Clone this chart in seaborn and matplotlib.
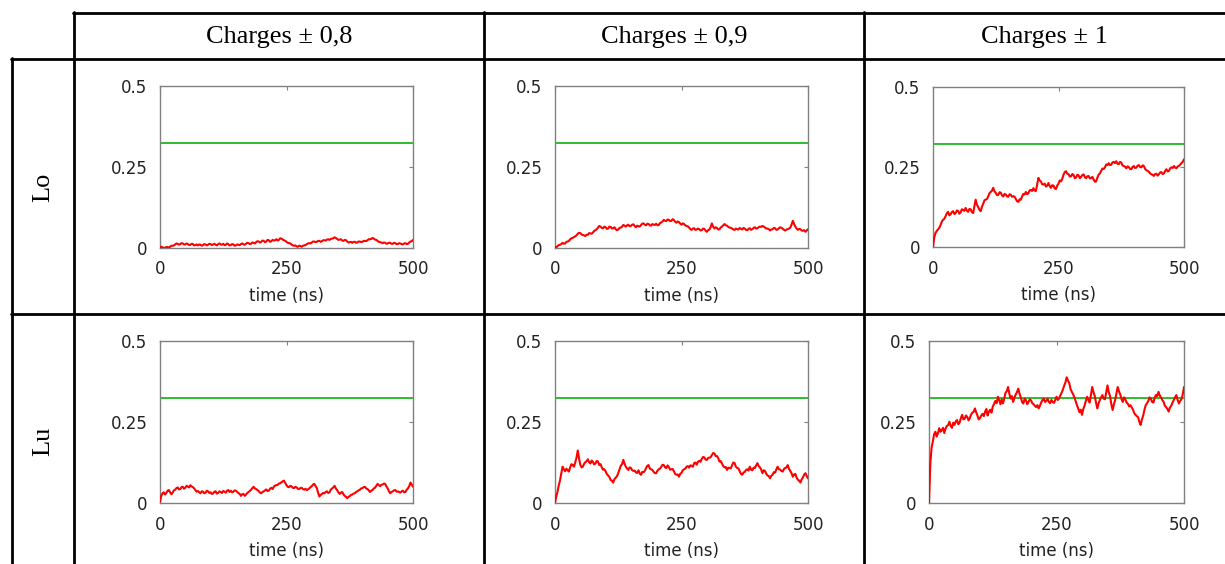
import numpy as np
import pandas as pd
import matplotlib
matplotlib.use("Agg")
import matplotlib.pyplot as plt
from matplotlib.lines import Line2D
import seaborn as sns

# ---------------- data ----------------
col_titles = ["Charges ± 0,8", "Charges ± 0,9", "Charges ± 1"]
row_titles = ["Lo", "Lu"]
x_ticks = [0, 250, 500]
x_ticklabels = ["0", "250", "500"]
y_ticks = [0, 0.25, 0.5]
y_ticklabels = ["0", "0.25", "0.5"]
x_label = "time (ns)"
reference_level = 0.323

# samples on a 5 ns grid, plus in-between samples (at 2.5, 7.5, ...)
time_ns = [5 * i for i in range(101)]
time_mid_ns = [2.5 + 5 * i for i in range(100)]

lo_08 = [0.001, 0.002, 0.001, 0.003, 0.004, 0.007, 0.011, 0.013, 0.012, 0.014,
         0.011, 0.012, 0.010, 0.012, 0.009, 0.008, 0.010, 0.009, 0.011, 0.010,
         0.012, 0.011, 0.010, 0.012, 0.011, 0.013, 0.010, 0.012, 0.009, 0.011,
         0.008, 0.010, 0.012, 0.011, 0.013, 0.015, 0.013, 0.016, 0.018, 0.020,
         0.019, 0.022, 0.020, 0.024, 0.021, 0.023, 0.027, 0.025, 0.029, 0.024,
         0.019, 0.015, 0.011, 0.007, 0.005, 0.007, 0.004, 0.008, 0.012, 0.015,
         0.017, 0.020, 0.019, 0.022, 0.021, 0.024, 0.026, 0.025, 0.029, 0.033,
         0.028, 0.026, 0.023, 0.025, 0.020, 0.018, 0.016, 0.019, 0.017, 0.020,
         0.019, 0.022, 0.024, 0.027, 0.031, 0.026, 0.022, 0.018, 0.015, 0.016,
         0.014, 0.016, 0.013, 0.015, 0.012, 0.014, 0.011, 0.015, 0.013, 0.020,
         0.025]
lo_08_mid = [0.004, 0.000, 0.003, 0.001, 0.007, 0.008, 0.014, 0.010, 0.015, 0.011,
             0.014, 0.009, 0.013, 0.008, 0.011, 0.011, 0.007, 0.012, 0.008, 0.013,
             0.009, 0.013, 0.008, 0.014, 0.010, 0.009, 0.014, 0.008, 0.012, 0.007,
             0.011, 0.009, 0.014, 0.010, 0.016, 0.012, 0.017, 0.014, 0.021, 0.017,
             0.023, 0.018, 0.025, 0.019, 0.025, 0.024, 0.023, 0.030, 0.026, 0.022,
             0.016, 0.014, 0.008, 0.008, 0.004, 0.006, 0.007, 0.009, 0.014, 0.014,
             0.020, 0.018, 0.022, 0.019, 0.024, 0.023, 0.027, 0.028, 0.030, 0.031,
             0.025, 0.027, 0.022, 0.024, 0.017, 0.019, 0.019, 0.016, 0.020, 0.018,
             0.022, 0.021, 0.027, 0.028, 0.029, 0.025, 0.019, 0.017, 0.017, 0.013,
             0.016, 0.013, 0.016, 0.012, 0.015, 0.012, 0.014, 0.012, 0.017, 0.021]

lo_09 = [0.003, 0.006, 0.010, 0.016, 0.014, 0.020, 0.027, 0.031, 0.036, 0.044,
         0.046, 0.040, 0.037, 0.041, 0.045, 0.048, 0.055, 0.063, 0.066, 0.061,
         0.064, 0.060, 0.065, 0.061, 0.058, 0.057, 0.063, 0.071, 0.066, 0.072,
         0.068, 0.073, 0.064, 0.067, 0.071, 0.076, 0.070, 0.074, 0.069, 0.072,
         0.075, 0.071, 0.079, 0.087, 0.083, 0.087, 0.084, 0.086, 0.078, 0.080,
         0.072, 0.074, 0.068, 0.063, 0.056, 0.061, 0.057, 0.058, 0.055, 0.059,
         0.050, 0.057, 0.076, 0.060, 0.062, 0.058, 0.066, 0.074, 0.069, 0.063,
         0.060, 0.056, 0.058, 0.062, 0.057, 0.060, 0.055, 0.061, 0.058, 0.064,
         0.061, 0.066, 0.068, 0.063, 0.060, 0.054, 0.058, 0.061, 0.057, 0.064,
         0.060, 0.054, 0.058, 0.063, 0.084, 0.066, 0.056, 0.058, 0.053, 0.050,
         0.058]
lo_09_mid = [0.002, 0.009, 0.012, 0.013, 0.019, 0.022, 0.030, 0.034, 0.039, 0.047,
             0.042, 0.039, 0.041, 0.046, 0.044, 0.053, 0.058, 0.068, 0.062, 0.066,
             0.059, 0.066, 0.060, 0.064, 0.055, 0.062, 0.066, 0.069, 0.070, 0.067,
             0.072, 0.068, 0.069, 0.066, 0.075, 0.072, 0.075, 0.070, 0.074, 0.071,
             0.070, 0.077, 0.082, 0.084, 0.088, 0.083, 0.089, 0.081, 0.082, 0.075,
             0.076, 0.070, 0.067, 0.058, 0.060, 0.056, 0.060, 0.054, 0.060, 0.054,
             0.055, 0.064, 0.066, 0.064, 0.057, 0.063, 0.070, 0.070, 0.065, 0.062,
             0.057, 0.060, 0.057, 0.059, 0.062, 0.056, 0.059, 0.056, 0.062, 0.060,
             0.064, 0.065, 0.066, 0.060, 0.058, 0.057, 0.062, 0.056, 0.061, 0.062,
             0.056, 0.057, 0.060, 0.072, 0.074, 0.060, 0.059, 0.054, 0.055, 0.054]

lo_10 = [0.000, 0.044, 0.055, 0.068, 0.085, 0.096, 0.110, 0.102, 0.112, 0.106,
         0.113, 0.108, 0.116, 0.122, 0.110, 0.118, 0.106, 0.148, 0.125, 0.112,
         0.135, 0.148, 0.158, 0.172, 0.185, 0.169, 0.163, 0.170, 0.158, 0.164,
         0.157, 0.163, 0.159, 0.150, 0.141, 0.148, 0.166, 0.172, 0.168, 0.178,
         0.184, 0.175, 0.216, 0.205, 0.195, 0.189, 0.200, 0.185, 0.192, 0.181,
         0.198, 0.205, 0.226, 0.237, 0.228, 0.221, 0.225, 0.217, 0.224, 0.219,
         0.227, 0.215, 0.222, 0.216, 0.211, 0.205, 0.226, 0.238, 0.244, 0.258,
         0.262, 0.257, 0.266, 0.268, 0.259, 0.264, 0.253, 0.246, 0.250, 0.243,
         0.253, 0.248, 0.256, 0.249, 0.253, 0.240, 0.235, 0.227, 0.222, 0.229,
         0.227, 0.234, 0.230, 0.243, 0.238, 0.249, 0.253, 0.246, 0.253, 0.262,
         0.274]
lo_10_mid = [0.030, 0.050, 0.060, 0.079, 0.088, 0.105, 0.099, 0.109, 0.103, 0.114,
             0.104, 0.118, 0.113, 0.114, 0.119, 0.109, 0.128, 0.132, 0.116, 0.126,
             0.146, 0.150, 0.168, 0.176, 0.174, 0.162, 0.171, 0.161, 0.166, 0.158,
             0.165, 0.157, 0.157, 0.143, 0.149, 0.158, 0.164, 0.165, 0.177, 0.175,
             0.176, 0.196, 0.208, 0.196, 0.198, 0.192, 0.190, 0.193, 0.183, 0.192,
             0.208, 0.213, 0.234, 0.229, 0.220, 0.228, 0.215, 0.226, 0.215, 0.225,
             0.218, 0.221, 0.214, 0.219, 0.204, 0.217, 0.230, 0.245, 0.249, 0.256,
             0.256, 0.264, 0.262, 0.260, 0.266, 0.255, 0.251, 0.252, 0.244, 0.250,
             0.247, 0.254, 0.250, 0.255, 0.244, 0.238, 0.230, 0.226, 0.228, 0.223,
             0.233, 0.228, 0.238, 0.236, 0.246, 0.247, 0.248, 0.252, 0.258, 0.266]

lu_08 = [0.004, 0.030, 0.026, 0.038, 0.033, 0.032, 0.041, 0.048, 0.043, 0.050,
         0.047, 0.051, 0.055, 0.049, 0.040, 0.037, 0.030, 0.035, 0.032, 0.036,
         0.033, 0.030, 0.036, 0.031, 0.034, 0.037, 0.032, 0.040, 0.038, 0.035,
         0.038, 0.031, 0.022, 0.028, 0.026, 0.034, 0.041, 0.050, 0.043, 0.037,
         0.030, 0.036, 0.042, 0.038, 0.047, 0.050, 0.055, 0.060, 0.064, 0.069,
         0.055, 0.049, 0.051, 0.046, 0.048, 0.043, 0.047, 0.041, 0.040, 0.045,
         0.052, 0.059, 0.046, 0.020, 0.028, 0.030, 0.036, 0.033, 0.045, 0.053,
         0.040, 0.028, 0.034, 0.022, 0.015, 0.021, 0.026, 0.030, 0.036, 0.041,
         0.046, 0.050, 0.043, 0.034, 0.040, 0.047, 0.059, 0.052, 0.057, 0.059,
         0.045, 0.030, 0.036, 0.040, 0.036, 0.032, 0.038, 0.034, 0.045, 0.063,
         0.050]
lu_08_mid = [0.022, 0.033, 0.031, 0.040, 0.027, 0.039, 0.046, 0.042, 0.049, 0.044,
             0.053, 0.048, 0.051, 0.045, 0.035, 0.033, 0.036, 0.030, 0.038, 0.031,
             0.028, 0.035, 0.029, 0.036, 0.031, 0.035, 0.038, 0.034, 0.033, 0.039,
             0.034, 0.028, 0.027, 0.022, 0.031, 0.037, 0.046, 0.045, 0.040, 0.032,
             0.034, 0.039, 0.037, 0.044, 0.043, 0.054, 0.056, 0.061, 0.067, 0.062,
             0.050, 0.053, 0.047, 0.050, 0.044, 0.046, 0.043, 0.044, 0.042, 0.049,
             0.057, 0.052, 0.031, 0.025, 0.031, 0.034, 0.031, 0.041, 0.048, 0.045,
             0.033, 0.032, 0.027, 0.019, 0.019, 0.025, 0.029, 0.034, 0.039, 0.045,
             0.049, 0.045, 0.039, 0.038, 0.045, 0.053, 0.055, 0.056, 0.060, 0.051,
             0.036, 0.034, 0.039, 0.035, 0.034, 0.036, 0.033, 0.041, 0.052, 0.057]

lu_09 = [0.000, 0.035, 0.070, 0.112, 0.098, 0.101, 0.110, 0.117, 0.125, 0.162,
         0.118, 0.112, 0.126, 0.135, 0.122, 0.127, 0.122, 0.128, 0.120, 0.103,
         0.098, 0.085, 0.071, 0.063, 0.078, 0.092, 0.115, 0.133, 0.112, 0.102,
         0.108, 0.099, 0.094, 0.101, 0.087, 0.095, 0.108, 0.117, 0.104, 0.096,
         0.092, 0.104, 0.112, 0.117, 0.108, 0.111, 0.104, 0.098, 0.087, 0.081,
         0.093, 0.104, 0.112, 0.109, 0.115, 0.123, 0.118, 0.130, 0.136, 0.141,
         0.133, 0.140, 0.148, 0.153, 0.145, 0.128, 0.122, 0.110, 0.102, 0.108,
         0.117, 0.123, 0.108, 0.098, 0.087, 0.096, 0.104, 0.112, 0.101, 0.108,
         0.123, 0.110, 0.092, 0.099, 0.085, 0.076, 0.087, 0.094, 0.112, 0.103,
         0.097, 0.108, 0.117, 0.099, 0.081, 0.090, 0.072, 0.063, 0.079, 0.092,
         0.076]
lu_09_mid = [0.020, 0.055, 0.092, 0.104, 0.106, 0.097, 0.120, 0.112, 0.140, 0.138,
             0.110, 0.121, 0.129, 0.126, 0.131, 0.119, 0.130, 0.117, 0.110, 0.104,
             0.089, 0.080, 0.069, 0.074, 0.083, 0.104, 0.120, 0.121, 0.106, 0.110,
             0.101, 0.100, 0.093, 0.091, 0.096, 0.099, 0.115, 0.106, 0.102, 0.092,
             0.100, 0.106, 0.118, 0.110, 0.116, 0.103, 0.105, 0.090, 0.088, 0.090,
             0.101, 0.106, 0.114, 0.116, 0.112, 0.125, 0.127, 0.127, 0.142, 0.134,
             0.139, 0.141, 0.154, 0.145, 0.139, 0.129, 0.114, 0.111, 0.109, 0.107,
             0.125, 0.112, 0.107, 0.090, 0.094, 0.102, 0.100, 0.103, 0.109, 0.116,
             0.114, 0.103, 0.101, 0.090, 0.083, 0.084, 0.095, 0.104, 0.104, 0.099,
             0.105, 0.110, 0.105, 0.092, 0.088, 0.078, 0.069, 0.073, 0.088, 0.083]

lu_10 = [0.000, 0.170, 0.212, 0.205, 0.231, 0.225, 0.216, 0.238, 0.251, 0.232,
         0.241, 0.256, 0.248, 0.272, 0.260, 0.266, 0.262, 0.279, 0.292, 0.270,
         0.262, 0.275, 0.282, 0.270, 0.288, 0.297, 0.315, 0.328, 0.305, 0.307,
         0.340, 0.358, 0.322, 0.312, 0.335, 0.353, 0.325, 0.307, 0.318, 0.311,
         0.317, 0.305, 0.296, 0.292, 0.310, 0.322, 0.315, 0.312, 0.318, 0.309,
         0.328, 0.322, 0.340, 0.362, 0.388, 0.370, 0.343, 0.326, 0.302, 0.280,
         0.272, 0.300, 0.328, 0.310, 0.358, 0.330, 0.292, 0.318, 0.333, 0.320,
         0.363, 0.330, 0.287, 0.318, 0.358, 0.335, 0.312, 0.320, 0.306, 0.302,
         0.288, 0.272, 0.265, 0.241, 0.270, 0.302, 0.315, 0.322, 0.310, 0.333,
         0.343, 0.325, 0.312, 0.296, 0.282, 0.300, 0.318, 0.333, 0.307, 0.320,
         0.358]
lu_10_mid = [0.120, 0.190, 0.220, 0.215, 0.220, 0.232, 0.230, 0.240, 0.238, 0.248,
             0.252, 0.243, 0.262, 0.258, 0.270, 0.255, 0.273, 0.281, 0.280, 0.258,
             0.270, 0.268, 0.290, 0.282, 0.279, 0.306, 0.308, 0.318, 0.320, 0.322,
             0.345, 0.338, 0.330, 0.325, 0.342, 0.338, 0.312, 0.322, 0.305, 0.320,
             0.308, 0.300, 0.302, 0.300, 0.318, 0.312, 0.322, 0.308, 0.312, 0.318,
             0.318, 0.332, 0.350, 0.372, 0.378, 0.352, 0.336, 0.315, 0.292, 0.288,
             0.290, 0.315, 0.318, 0.335, 0.342, 0.310, 0.307, 0.326, 0.322, 0.342,
             0.342, 0.305, 0.304, 0.338, 0.345, 0.320, 0.326, 0.310, 0.298, 0.295,
             0.277, 0.268, 0.250, 0.258, 0.288, 0.308, 0.326, 0.312, 0.325, 0.330,
             0.332, 0.318, 0.300, 0.290, 0.295, 0.310, 0.326, 0.318, 0.315, 0.335]

series = [[(lo_08, lo_08_mid), (lo_09, lo_09_mid), (lo_10, lo_10_mid)],
          [(lu_08, lu_08_mid), (lu_09, lu_09_mid), (lu_10, lu_10_mid)]]

# ---------------- style ----------------
sns.set_theme(style="white")
plt.rcParams["font.family"] = ["DejaVu Sans"]

W, H = 1225, 564
fig = plt.figure(figsize=(W / 100, H / 100), dpi=100)
fig.patch.set_facecolor("white")

# axes rectangles in pixels: (left, top, right, bottom)
boxes = [
    [(160, 86, 413, 248), (555, 86, 808, 248), (933, 87, 1184, 247)],
    [(160, 341, 413, 503), (555, 341, 808, 503), (929, 341, 1184, 503)],
]

frame_color = "#808080"
red = "#ff0000"
green = "#1fb51f"

for r in range(2):
    for c in range(3):
        l, t, rr, b = boxes[r][c]
        ax = fig.add_axes([l / W, 1 - b / H, (rr - l) / W, (b - t) / H])
        main, mid = series[r][c]
        df = pd.DataFrame({"time": time_ns + time_mid_ns, "value": main + mid})
        df = df.sort_values("time")
        ax.axhline(reference_level, color=green, lw=1.3, zorder=2)
        sns.lineplot(data=df, x="time", y="value", ax=ax, color=red,
                     lw=1.5, estimator=None, sort=True, zorder=3)
        ax.set_xlim(0, 500)
        ax.set_ylim(0, 0.5)
        ax.set_xticks(x_ticks)
        ax.set_xticklabels(x_ticklabels)
        ax.set_yticks(y_ticks)
        ax.set_yticklabels(y_ticklabels)
        ax.set_xlabel(x_label, fontsize=12, color="#222222", labelpad=6)
        ax.set_ylabel("")
        ax.tick_params(direction="in", length=3, width=0.8, color=frame_color,
                       top=True, right=True, labelsize=12, labelcolor="#222222",
                       pad=9)
        for s in ax.spines.values():
            s.set_color(frame_color)
            s.set_linewidth(1.0)
            s.set_visible(True)
        ax.grid(False)

# ---------------- table lines ----------------
def hline(y, x0, x1):
    fig.add_artist(Line2D([x0 / W, x1 / W], [1 - y / H, 1 - y / H],
                          color="black", lw=2.0, transform=fig.transFigure))

def vline(x, y0, y1):
    fig.add_artist(Line2D([x / W, x / W], [1 - y0 / H, 1 - y1 / H],
                          color="black", lw=2.0, transform=fig.transFigure))

hline(13, 73, W)
hline(59, 11, W)
hline(314, 11, W)
vline(12, 58, H)
vline(74, 12, H)
vline(484, 12, H)
vline(864, 12, H)

serif = ["Liberation Serif", "DejaVu Serif"]
col_centers = [279, 674, 1044]
for cx, txt in zip(col_centers, col_titles):
    fig.text(cx / W, 1 - 37 / H, txt, ha="center", va="center",
             fontsize=19, family=serif, color="black")

row_centers = [187, 441]
for cy, txt in zip(row_centers, row_titles):
    fig.text(43 / W, 1 - cy / H, txt, ha="center", va="center",
             rotation=90, fontsize=19, family=serif, color="black")

fig.savefig("out.png", dpi=100, facecolor="white")
